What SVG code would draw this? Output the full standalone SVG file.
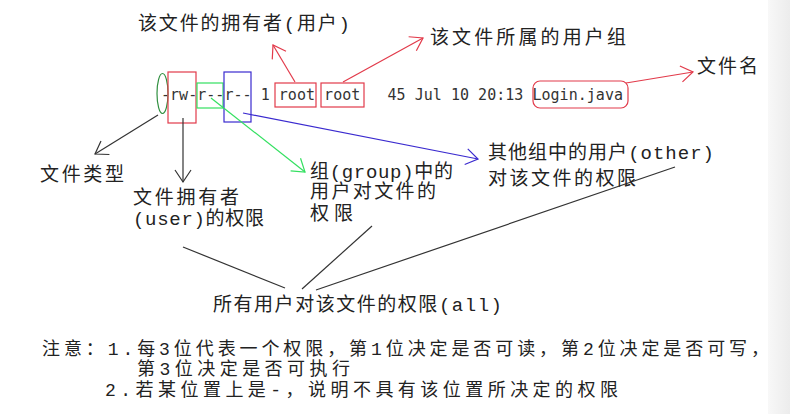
<svg xmlns="http://www.w3.org/2000/svg" width="790" height="414" viewBox="0 0 790 414">
<style>
.lbl{font-family:"Liberation Mono","Noto Sans CJK SC",monospace;font-size:19px;fill:#222;}
.note{font-size:18px;}
.ls{font-family:"DejaVu Sans Mono",monospace;font-size:15px;fill:#333;white-space:pre;}
.ln{fill:none;stroke-width:1.2;}
.k{stroke:#333;}
.r{stroke:#e23a4a;}
.g{stroke:#33e060;}
.b{stroke:#3a2acf;}
</style>
<defs>
<linearGradient id="strip" x1="0" x2="1" y1="0" y2="0">
<stop offset="0" stop-color="#f8f8f8"/>
<stop offset="1" stop-color="#ececec"/>
</linearGradient>
<marker id="ak" viewBox="-15 -10 17 20" markerWidth="17" markerHeight="20" refX="0" refY="0" orient="auto" markerUnits="userSpaceOnUse"><path d="M-12,-8 L0,0 L-12,8" fill="none" stroke="#333" stroke-width="1.2"/></marker>
<marker id="ar" viewBox="-15 -10 17 20" markerWidth="17" markerHeight="20" refX="0" refY="0" orient="auto" markerUnits="userSpaceOnUse"><path d="M-12,-8 L0,0 L-12,8" fill="none" stroke="#e23a4a" stroke-width="1.2"/></marker>
<marker id="ag" viewBox="-15 -10 17 20" markerWidth="17" markerHeight="20" refX="0" refY="0" orient="auto" markerUnits="userSpaceOnUse"><path d="M-12,-8 L0,0 L-12,8" fill="none" stroke="#33e060" stroke-width="1.2"/></marker>
<marker id="ab" viewBox="-15 -10 17 20" markerWidth="17" markerHeight="20" refX="0" refY="0" orient="auto" markerUnits="userSpaceOnUse"><path d="M-12,-8 L0,0 L-12,8" fill="none" stroke="#3a2acf" stroke-width="1.2"/></marker>
</defs>
<rect width="790" height="414" fill="#fff"/>
<rect x="768" y="0" width="22" height="414" fill="url(#strip)"/>

<g id="listing">
<text class="ls" x="161" y="100" textLength="462" xml:space="preserve">-rw-r--r-- 1 root root   45 Jul 10 20:13 Login.java</text>
</g>
<g id="type-mark"><ellipse cx="162.5" cy="93.5" rx="5.5" ry="20" class="ln" stroke="#2f8f3f"/></g>
<g id="user-box"><rect x="168" y="72" width="28" height="51" class="ln r"/></g>
<g id="group-box"><rect x="197" y="83" width="26" height="25" class="ln g"/></g>
<g id="other-box"><rect x="224" y="72" width="27" height="50" class="ln b"/></g>
<g id="owner-box"><rect x="275" y="83" width="41" height="24" class="ln r"/></g>
<g id="grp-box"><rect x="321" y="83" width="43" height="24" class="ln r"/></g>
<g id="name-box"><rect x="533" y="81" width="95" height="27" rx="7" class="ln r"/></g>

<g id="connectors">
<line x1="295" y1="82" x2="273" y2="45" class="ln r" marker-end="url(#ar)"/>
<line x1="343" y1="82" x2="423" y2="38" class="ln r" marker-end="url(#ar)"/>
<line x1="626" y1="83" x2="693" y2="72" class="ln r" marker-end="url(#ar)"/>
<line x1="158" y1="115" x2="95" y2="154" class="ln k" marker-end="url(#ak)"/>
<line x1="183" y1="118" x2="183" y2="182" class="ln k" marker-end="url(#ak)"/>
<line x1="211" y1="98" x2="305" y2="172" class="ln g" marker-end="url(#ag)"/>
<line x1="243" y1="113" x2="478" y2="159" class="ln b" marker-end="url(#ab)"/>
<line x1="183" y1="247" x2="285" y2="288" class="ln k"/>
<line x1="372" y1="226" x2="302" y2="289" class="ln k"/>
<line x1="316" y1="290" x2="675" y2="167" class="ln k"/>
</g>

<g id="label-owner"><text class="lbl" x="138" y="30" textLength="212">该文件的拥有者(用户)</text></g>
<g id="label-group"><text class="lbl" x="430" y="44" textLength="196">该文件所属的用户组</text></g>
<g id="label-name"><text class="lbl" x="697" y="73" textLength="61">文件名</text></g>
<g id="label-type"><text class="lbl" x="40" y="181" textLength="84">文件类型</text></g>
<g id="label-user"><text class="lbl" x="133" y="204" textLength="106">文件拥有者</text><text class="lbl" x="133" y="225" textLength="131">(user)的权限</text></g>
<g id="label-grp"><text class="lbl" x="310" y="178" textLength="143">组(group)中的</text><text class="lbl" x="310" y="198" textLength="126">用户对文件的</text><text class="lbl" x="310" y="220" textLength="43">权限</text></g>
<g id="label-other"><text class="lbl" x="488" y="159" textLength="226">其他组中的用户(other)</text><text class="lbl" x="488" y="185" textLength="148">对该文件的权限</text></g>
<g id="label-all"><text class="lbl" x="213" y="311" textLength="289">所有用户对该文件的权限(all)</text></g>
<g id="note">
<text class="lbl note" x="42" y="355" textLength="727">注意：1.每3位代表一个权限，第1位决定是否可读，第2位决定是否可写，</text>
<text class="lbl note" x="137" y="375" textLength="213">第3位决定是否可执行</text>
<text class="lbl note" x="105" y="396" textLength="513">2.若某位置上是-，说明不具有该位置所决定的权限</text>
</g>
</svg>
